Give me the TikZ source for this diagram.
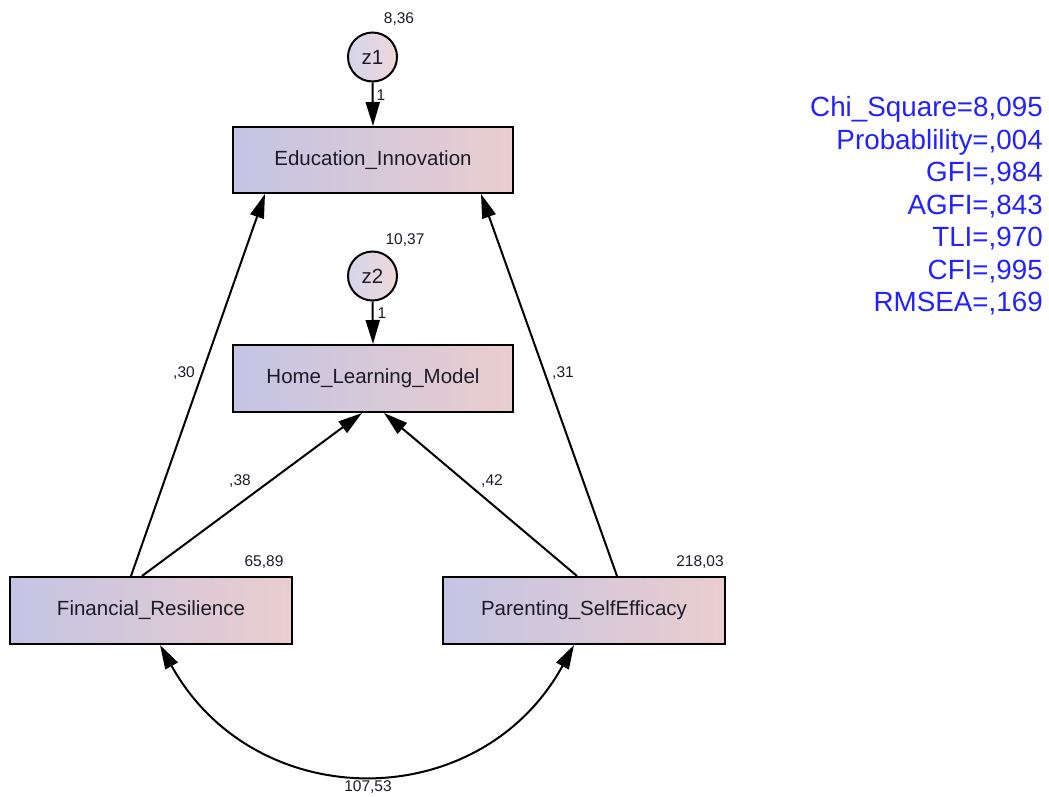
\documentclass[tikz,border=0pt]{standalone}
\usepackage{fontspec}
\setmainfont{Liberation Sans}
\usetikzlibrary{arrows.meta}
\definecolor{lcol}{RGB}{196,196,228}
\definecolor{rcol}{RGB}{234,205,206}
\definecolor{statblue}{RGB}{34,34,255}
\definecolor{txt}{RGB}{28,28,40}
\tikzset{
  var/.style={draw=black, line width=2pt, left color=lcol, right color=rcol,
    minimum width=280pt, minimum height=66pt, inner sep=0pt, text=txt,
    font=\fontsize{20.5}{24}\selectfont},
  err/.style={circle, draw=black, line width=2pt, left color=lcol!70!white, right color=rcol!80!white,
    minimum size=49pt, inner sep=0pt, text=txt, font=\fontsize{20.5}{24}\selectfont},
  num/.style={text=txt, inner sep=0pt, font=\fontsize{15.5}{18}\selectfont},
  stat/.style={text=statblue, inner sep=0pt, anchor=base east, font=\fontsize{27.8}{32}\selectfont},
  path/.style={line width=2pt, -{Triangle[length=24pt,width=14pt]}},
  cov/.style={line width=2pt, {Triangle[length=24pt,width=14pt]}-{Triangle[length=24pt,width=14pt]}}
}
\begin{document}
\begin{tikzpicture}[x=1pt,y=-1pt]
\useasboundingbox (0,0) rectangle (1049,796);
% variables
\node[var] (edu) at (373,160) {Education\_Innovation};
\node[var, minimum height=67pt] (hlm) at (373,378.5) {Home\_Learning\_Model};
\node[var, minimum width=282pt, minimum height=67pt] (fr) at (151,610.5) {Financial\_Resilience};
\node[var, minimum width=282pt, minimum height=67pt] (pse) at (584,610.5) {Parenting\_SelfEfficacy};
\node[err] (z1) at (372.5,57) {z1};
\node[err] (z2) at (372.5,276) {z2};
% paths
\draw[path] (z1.south) -- (edu.north);
\draw[path] (z2.south) -- (hlm.north);
\draw[path] ([xshift=-20pt]fr.north) -- ([xshift=-108pt]edu.south);
\draw[path] ([xshift=-9pt]fr.north) -- ([xshift=-11pt]hlm.south);
\draw[path] ([xshift=-7pt]pse.north) -- ([xshift=11pt]hlm.south);
\draw[path] ([xshift=33pt]pse.north) -- ([xshift=108pt]edu.south);
\draw[cov] ([xshift=9pt]fr.south) .. controls (255,816) and (480,816) .. ([xshift=-10pt]pse.south);
% numbers
\node[num] (v1) at (399,19) {8,36};
\node[num] (v2) at (405,240) {10,37};
\node[num] (v3) at (264,562) {65,89};
\node[num] (v4) at (700,562) {218,03};
\node[num] (v5) at (368,787) {107,53};
\node[num] (w1) at (381,95) {1};
\node[num] (w2) at (382,313) {1};
\node[num] (c1) at (184,373) {,30};
\node[num] (c2) at (240,481) {,38};
\node[num] (c3) at (492,481) {,42};
\node[num] (c4) at (563,373) {,31};
% fit statistics
\node[stat] (s1) at (1043,116.7) {Chi\_Square=8,095};
\node[stat] (s2) at (1043,149.2) {Probablility=,004};
\node[stat] (s3) at (1043,181.7) {GFI=,984};
\node[stat] (s4) at (1043,214.2) {AGFI=,843};
\node[stat] (s5) at (1043,246.7) {TLI=,970};
\node[stat] (s6) at (1043,279.2) {CFI=,995};
\node[stat] (s7) at (1043,311.7) {RMSEA=,169};
\end{tikzpicture}
\end{document}
